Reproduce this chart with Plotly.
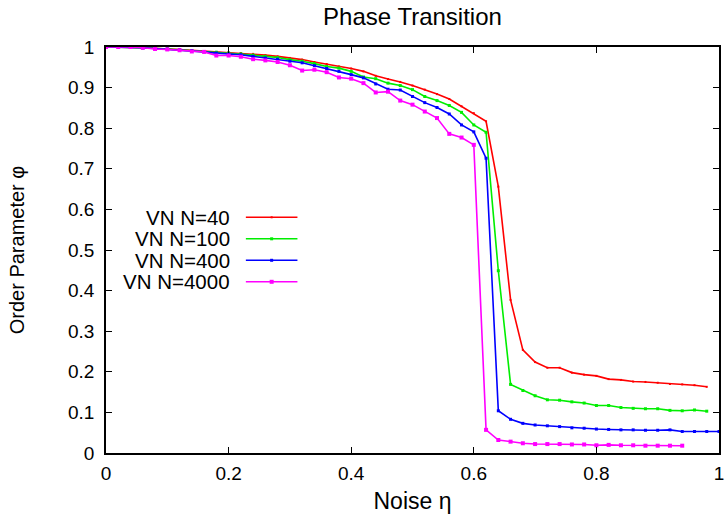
import plotly.graph_objects as go

# ---- data ----
eta = [round(0.02 * i, 2) for i in range(51)]  # 0, 0.02, ..., 1.0 (grid of noise values)

phi_n40 = [1.000, 1.000, 0.999, 0.998, 0.997, 0.996, 0.994, 0.992, 0.990, 0.988,
           0.987, 0.985, 0.983, 0.980, 0.977, 0.973, 0.969, 0.963, 0.958, 0.952,
           0.947, 0.940, 0.929, 0.921, 0.914, 0.905, 0.895, 0.884, 0.872, 0.854,
           0.837, 0.817, 0.656, 0.377, 0.254, 0.224, 0.210, 0.210, 0.198, 0.193,
           0.190, 0.182, 0.180, 0.176, 0.175, 0.173, 0.170, 0.169, 0.167, 0.163]

phi_n100 = [1.000, 1.000, 0.999, 0.998, 0.997, 0.995, 0.993, 0.991, 0.989, 0.987,
            0.985, 0.983, 0.980, 0.977, 0.974, 0.969, 0.965, 0.959, 0.952, 0.948,
            0.940, 0.926, 0.922, 0.911, 0.905, 0.895, 0.878, 0.868, 0.856, 0.839,
            0.808, 0.790, 0.449, 0.169, 0.154, 0.141, 0.131, 0.130, 0.126, 0.123,
            0.117, 0.117, 0.112, 0.110, 0.109, 0.109, 0.105, 0.104, 0.106, 0.103]

phi_n400 = [1.000, 1.000, 0.999, 0.998, 0.996, 0.995, 0.993, 0.991, 0.988, 0.985,
            0.983, 0.981, 0.977, 0.973, 0.970, 0.965, 0.961, 0.954, 0.947, 0.940,
            0.932, 0.924, 0.909, 0.896, 0.894, 0.878, 0.863, 0.851, 0.835, 0.808,
            0.791, 0.726, 0.104, 0.083, 0.073, 0.069, 0.067, 0.065, 0.062, 0.061,
            0.059, 0.058, 0.057, 0.057, 0.056, 0.056, 0.057, 0.053, 0.053, 0.053,
            0.053]

phi_n4000 = [1.000, 1.000, 1.000, 0.998, 0.995, 0.994, 0.992, 0.989, 0.988, 0.979,
             0.979, 0.976, 0.970, 0.967, 0.963, 0.955, 0.942, 0.944, 0.938, 0.925,
             0.922, 0.911, 0.888, 0.890, 0.868, 0.858, 0.841, 0.825, 0.786, 0.777,
             0.759, 0.057, 0.032, 0.028, 0.024, 0.022, 0.022, 0.022, 0.021, 0.021,
             0.019, 0.020, 0.019, 0.019, 0.018, 0.018, 0.018, 0.018]

labels = ["VN N=40", "VN N=100", "VN N=400", "VN N=4000"]
series = [phi_n40, phi_n100, phi_n400, phi_n4000]

# ---- style ----
colors = ["#ff0000", "#00ee00", "#0000ff", "#ff00ff"]
msizes = [2, 3, 3, 4]
FONT = "Liberation Sans, Arial, sans-serif"
W, H = 726, 522
ML, MR, MT, MB = 106, 2, 47, 69
PW, PH = W - ML - MR, H - MT - MB

fig = go.Figure()
for lab, ys, col, ms in zip(labels, series, colors, msizes):
    fig.add_trace(go.Scatter(
        x=eta[:len(ys)], y=ys, mode="lines+markers", name=lab,
        line=dict(color=col, width=1.6),
        marker=dict(symbol="square", size=ms, color=col),
        showlegend=False,
    ))

# gnuplot-style key: right-aligned text, sample line to the right
def px2paper_x(px):
    return (px - ML) / PW

def px2paper_y(py):
    return (H - MB - py) / PH

key_text_right = 233
key_line = (247, 299)
key_y0, key_dy = 217.3, 21.5
for i, (lab, col, ms) in enumerate(zip(labels, colors, msizes)):
    yy = px2paper_y(key_y0 + i * key_dy)
    fig.add_annotation(x=px2paper_x(key_text_right), y=yy, xref="paper", yref="paper",
                       text=lab, showarrow=False, xanchor="right", yanchor="middle",
                       font=dict(family=FONT, size=20.5, color="black"))
    fig.add_shape(type="line", xref="paper", yref="paper",
                  x0=px2paper_x(key_line[0]), x1=px2paper_x(key_line[1]), y0=yy, y1=yy,
                  line=dict(color=col, width=1.6))
    xm = px2paper_x((key_line[0] + key_line[1]) / 2)
    fig.add_shape(type="rect", xref="paper", yref="paper",
                  xsizemode="pixel", ysizemode="pixel", xanchor=xm, yanchor=yy,
                  x0=-ms / 2, x1=ms / 2, y0=-ms / 2, y1=ms / 2,
                  fillcolor=col, line=dict(width=0))

axis_common = dict(
    showline=True, linecolor="black", linewidth=1.5, mirror="ticks",
    ticks="inside", ticklen=6, tickwidth=1, tickcolor="black",
    showgrid=False, zeroline=False,
    tickfont=dict(family=FONT, size=19, color="black"),
)

fig.update_xaxes(range=[0, 1], dtick=0.2, tick0=0, ticklabelstandoff=2,
                 ticklabeloverflow="allow",
                 title=dict(text="Noise η", font=dict(family=FONT, size=23, color="black"), standoff=10),
                 **axis_common)
fig.update_yaxes(range=[0, 1], dtick=0.1, tick0=0, ticklabelstandoff=6,
                 title=dict(text="Order Parameter φ", font=dict(family=FONT, size=20, color="black"), standoff=38),
                 **axis_common)

fig.update_layout(
    width=W, height=H,
    margin=dict(l=ML, r=MR, t=MT, b=MB),
    paper_bgcolor="white", plot_bgcolor="white",
    title=dict(text="Phase Transition", x=0.5, xref="paper", xanchor="center",
               y=1 - 17 / H, yanchor="middle",
               font=dict(family=FONT, size=24, color="black")),
)

fig.write_html("out.html")
